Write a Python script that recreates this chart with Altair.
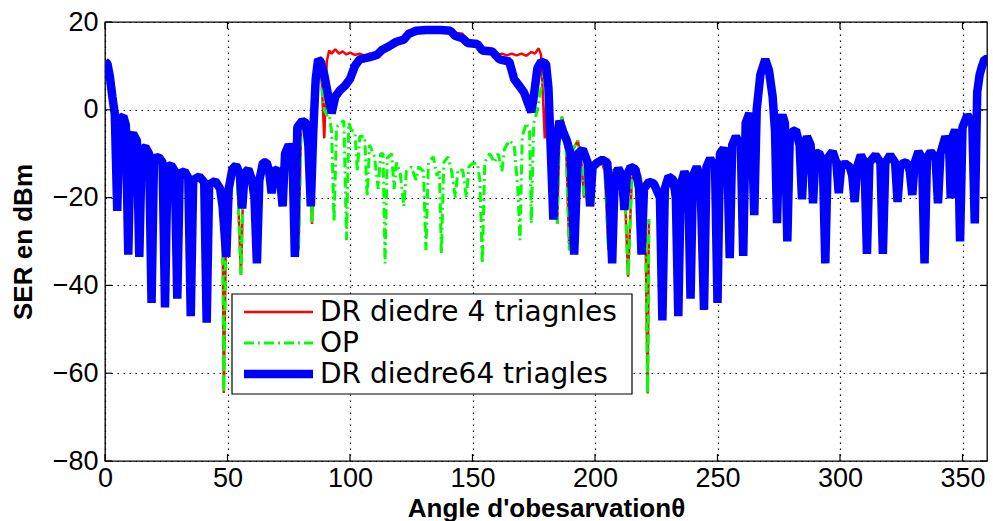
import altair as alt
import pandas as pd

# ---------------- data ----------------
x_ticks = [0, 50, 100, 150, 200, 250, 300, 350]
y_ticks = [-80, -60, -40, -20, 0, 20]

# DR diedre 64 triangles (blue, full 0..360)
blue_theta = [0, 1, 2, 3, 4, 5, 6, 7.5, 8.5, 9.5, 10.5, 11.5, 13, 14, 15, 16.5, 18, 19, 20, 22,
              23.5, 24.5, 25.5, 27, 28.5, 29.5, 30.5, 32.5, 34, 35, 36, 38.5, 40.5, 41.5, 42.5, 45,
              47, 48, 49.5, 50.5, 52, 53.5, 55, 56, 57, 58.5, 60, 61, 62, 63, 64.5, 66, 67, 68, 69,
              70.5, 71.5, 72.5, 73.5, 75, 76.5, 77.5, 78.5, 80.5, 82, 83, 84, 85, 86, 87, 88, 89.5,
              91, 92.5, 94, 96, 98, 100, 102, 104, 108, 111, 113, 116, 119, 122, 124, 127, 131, 137,
              141, 143, 146, 148, 152, 154, 158, 161, 165, 167, 169, 171, 173, 174, 175, 176.5, 178,
              180, 181, 182, 183, 184, 185.5, 187, 188.5, 190, 191.5, 193, 195, 197, 198, 199, 201,
              203, 205, 206, 207, 208, 209.5, 211, 212, 213, 214.5, 216.5, 218, 219, 220, 222, 224,
              226.5, 227.5, 228.5, 230, 232, 233, 234, 235, 236.5, 238, 239, 240, 241.5, 243, 244.5,
              245.5, 247, 249, 250, 251, 252.5, 254, 255, 256, 257.5, 259.5, 260.5, 261.5, 263, 264,
              265, 266, 267.5, 269.5, 271, 272.5, 273.5, 274.3, 275.3, 276.5, 277.5, 278.5, 279.5,
              280.5, 282, 283.5, 284.5, 285.5, 286.5, 288, 289, 290, 291.5, 293, 294, 295, 297, 298.5,
              299.5, 300.5, 302, 304, 305, 306, 307, 308.5, 310, 311, 312, 314.5, 316.5, 317.5, 318.5,
              320.5, 322.5, 323.5, 324.5, 326, 327.5, 328.5, 329.5, 330.5, 332, 333.5, 334.5, 335.5,
              337, 339, 340, 341, 343, 344.5, 345.2, 346, 347, 348.2, 349, 350, 352, 354, 355, 356,
              357, 358, 359, 360]
blue_ser = [11, 10.5, 7.5, 3, -1, -23, -2, -1.5, -3.5, -33, -6, -5.5, -7, -33.5, -9, -8.5, -10, -44,
            -11, -10.8, -12, -45, -13, -12.6, -14, -43, -14.5, -14, -15.5, -47, -16, -15.2, -16.5,
            -48.5, -17, -16.2, -18, -22, -33.5, -18, -13.5, -12.6, -14.5, -22.5, -14.5, -13.5, -16,
            -20, -35, -16, -12, -12, -14, -19, -14, -13.5, -16, -22, -10, -8, -9.5, -33.5, -4, -2.5,
            -3, -8, -22, -5, 7, 11.5, 11, 8, 3.5, -0.8, 3, 4.5, 5.5, 7, 10, 11.5, 12, 12.5, 13.6,
            14.5, 15.5, 16, 17.3, 18, 18.2, 18.2, 18, 16.8, 16.3, 15.2, 15, 13.5, 13.3, 11.5, 11, 7,
            5.5, 4, 1, -0.5, 3, 9.5, 11, 10.5, 5, -10, -25, -8, -2.5, -5, -7, -10, -33, -10, -9,
            -12, -22, -13, -12, -11.4, -12, -20, -35, -16, -13.3, -15, -22.8, -15, -13, -13.5, -18,
            -33, -18, -16.4, -16.8, -20, -48, -18, -15.2, -16, -20, -47, -17, -14.1, -16, -43, -15,
            -13, -15, -45.6, -13, -11.1, -13, -44, -10, -8.8, -11, -33.8, -8, -6.1, -8, -33.3, -3,
            -0.8, -4, -24, 0, 8, 11.5, 9, 3, -5, -25.8, -3, -1.2, -3, -30, -6, -5, -4.6, -8, -20.4,
            -8, -6.1, -8, -21.3, -10, -9.8, -12, -35, -11, -9.5, -12, -19, -13, -12.2, -13, -15,
            -21, -13, -10.3, -12, -32.8, -12, -10.3, -12, -32.8, -12, -10.3, -12, -21, -13, -12,
            -12.2, -14, -19.4, -12, -9.5, -11, -35, -11, -9.5, -11, -21.3, -10, -6.1, -8, -20.2,
            -6, -4.6, -7, -30, -4, -1.2, -3, -25.9, 4, 8, 10, 11.5, 11.5]

# side lobes shared by "DR diedre 4 triagnles" and "OP"
side_left_theta = [48, 48.5, 49.5, 51, 52.5, 54, 55.5, 56.5, 58, 59.5, 61, 62, 63, 64.5, 66, 67, 68,
                   69, 70.5, 72, 73, 75, 77, 78, 79, 80, 81, 82.5, 83.5, 84.5, 85.5, 86.5, 87.5]
side_left_ser = [-24, -64.5, -22, -17, -13.5, -15, -37.6, -16, -14, -16, -24, -31, -16, -12, -12,
                 -14, -18, -14, -13.5, -20, -10, -8, -9, -14, -32, -5, -2.5, -3, -10, -26, -5, 8, 11]
side_right_theta = [182.5, 183.5, 184.6, 185.5, 186.5, 188, 189.5, 191, 193, 194.5, 195.5, 197, 199,
                    201, 202.5, 204, 205.5, 207, 208.5, 210.5, 212, 213.5, 215, 216.5, 218.5, 220.5,
                    221.5, 222]
side_right_ser = [-5, -12, -26, -5, -1.6, -5, -32, -9, -7, -12, -20, -12, -13, -12, -11.5, -14, -32,
                  -14, -13.3, -13.5, -16, -38, -16, -13, -15, -22, -64.6, -25]

# DR diedre 4 triagnles (red), main lobe part
dr4_mid_theta = [88.5, 89.5, 90.5, 91.5, 92.5, 94, 95.5, 97, 98.5, 100, 102, 104, 106, 108, 110, 113,
                 116, 119, 122, 123.5, 127, 131, 137, 141, 143.5, 146, 147.5, 152, 154, 158, 160, 162,
                 164, 166, 168, 170, 172, 174, 175.5, 177, 178, 179.5, 180.5, 181.5]
dr4_mid_ser = [6, -6.5, 11, 13.5, 12.8, 13.8, 12.8, 13.3, 12.6, 13, 12.5, 12.8, 12.3, 12.8, 12.5,
               13.6, 14.5, 15.5, 16.5, 18, 18, 18.2, 18.2, 18, 17.5, 17.3, 15.5, 15, 13.5, 13.3,
               12.5, 12.8, 12.4, 12.8, 12.4, 12.8, 12.3, 13.2, 12.8, 14, 12.5, -6.5, 7, 3]

# OP (green), main lobe part
op_mid_theta = [88.5, 89.5, 90.5, 91.5, 92.5, 93.5, 94.5, 96, 97.5, 98.6, 99.5, 100.5, 102, 103, 104,
                106, 107, 108, 110, 111.5, 112.5, 113.5, 114.3, 115.2, 117, 118, 119, 120.5, 122, 123,
                125, 127, 128, 130, 131, 132, 134, 135.5, 136.5, 137.3, 138.3, 140, 141.5, 143, 144,
                146, 147.5, 148.5, 150, 152, 153, 154, 155, 157, 159, 160.5, 162, 163, 165, 167,
                168.5, 169.4, 170.3, 172, 173.3, 174, 175, 176.5, 178, 179.5, 180.5, 181.5]
op_mid_ser = [5, 0, -1.2, -1, -5, -25.5, -4, -3, -2.5, -29.7, -3, -4.6, -5, -14, -6, -6.1, -19.8, -8,
              -10.7, -18, -10, -10, -35, -11, -10, -18, -12, -14.5, -22, -14, -13, -16, -13, -14,
              -32, -12, -10.7, -15, -14, -32.7, -12, -10.7, -14, -20, -13.7, -13.7, -20, -13, -12.2,
              -12.2, -16, -35, -12, -10, -12, -10, -14, -9, -7, -8, -18, -29.7, -6, -3, -5, -25.9,
              -3, 0, 5, 9, 7, 3]

legend_labels = ["DR diedre 4 triagnles", "OP", "DR diedre64 triagles"]
legend_colors = ["#ff0000", "#00ff00", "#0000ff"]

# ---------------- build table ----------------
series = [
    ("DR diedre 4 triagnles", side_left_theta + dr4_mid_theta + side_right_theta,
     side_left_ser + dr4_mid_ser + side_right_ser),
    ("OP", side_left_theta + op_mid_theta + side_right_theta,
     side_left_ser + op_mid_ser + side_right_ser),
    ("DR diedre64 triagles", blue_theta, blue_ser),
]
rows = []
for name, th, sv in series:
    for i, (t, v) in enumerate(zip(th, sv)):
        rows.append({"serie": name, "theta": t, "ser": v, "ord": i})
df = pd.DataFrame(rows)

W, H = 882, 439
FONT = "Liberation Sans"

x_scale = alt.Scale(domain=[0, 360], nice=False, zero=False)
y_scale = alt.Scale(domain=[-80, 20], nice=False, zero=False)
x_axis = alt.Axis(values=x_ticks, title="Angle d'obesarvationθ", labelFlush=False,
                  labelOverlap=False, format="d")
y_axis = alt.Axis(values=y_ticks, title="SER en dBm", labelFlush=False,
                  labelOverlap=False, format="d")


def X(field):
    return alt.X(field, type="quantitative", scale=x_scale, axis=x_axis)


def Y(field):
    return alt.Y(field, type="quantitative", scale=y_scale, axis=y_axis)


base = alt.Chart(df)


def line(name, color, width, dash=None):
    kw = dict(color=color, strokeWidth=width, strokeJoin="bevel", clip=True)
    if dash:
        kw["strokeDash"] = dash
    return base.transform_filter(alt.datum.serie == name).mark_line(**kw).encode(
        x=X("theta"), y=Y("ser"), order=alt.Order("ord:Q"))


red = line(legend_labels[0], legend_colors[0], 2.5)
green = line(legend_labels[1], legend_colors[1], 3, [10, 4, 2, 4])
blue = line(legend_labels[2], legend_colors[2], 8.5)

# inward ticks (MATLAB style)
xt = alt.Chart(pd.DataFrame({"t": x_ticks}))
yt = alt.Chart(pd.DataFrame({"t": y_ticks}))
tick_layers = [
    xt.mark_rule(color="black", strokeWidth=1.2).encode(x=X("t"), y=alt.value(H), y2=alt.value(H - 7)),
    xt.mark_rule(color="black", strokeWidth=1.2).encode(x=X("t"), y=alt.value(0), y2=alt.value(7)),
    yt.mark_rule(color="black", strokeWidth=1.2).encode(y=Y("t"), x=alt.value(0), x2=alt.value(7)),
    yt.mark_rule(color="black", strokeWidth=1.2).encode(y=Y("t"), x=alt.value(W), x2=alt.value(W - 7)),
]

# legend box
lx0, lx1, ly0, ly1 = 127, 527, 272, 372
ldf = alt.Chart(pd.DataFrame({"k": [0]}))
legend_layers = [
    ldf.mark_rect(fill="white", stroke="black", strokeWidth=1.2).encode(
        x=alt.value(lx0), x2=alt.value(lx1), y=alt.value(ly0), y2=alt.value(ly1))
]
ys = [290, 321, 352]
widths = [2.5, 3, 8.5]
for i in range(3):
    kw = dict(color=legend_colors[i], strokeWidth=widths[i])
    if i == 1:
        kw["strokeDash"] = [10, 4, 2, 4]
    legend_layers.append(ldf.mark_rule(**kw).encode(
        x=alt.value(139), x2=alt.value(208), y=alt.value(ys[i])))
    legend_layers.append(ldf.mark_text(align="left", baseline="middle", font="DejaVu Sans",
                                       fontSize=28, color="black").encode(
        x=alt.value(215), y=alt.value(ys[i] + 1), text=alt.value(legend_labels[i])))

chart = alt.layer(red, green, blue, *tick_layers, *legend_layers).properties(
    width=W, height=H, autosize="none", background="white",
    padding={"left": 105, "top": 22, "right": 6, "bottom": 60},
).configure_view(stroke="black", strokeWidth=1.3).configure_axis(
    domain=False, ticks=False, grid=True, gridColor="black", gridDash=[1.5, 4.5],
    gridWidth=1.2, gridOpacity=1,
    labelFont=FONT, labelFontSize=27, labelColor="black",
    titleFont=FONT, titleFontSize=26, titleFontWeight="bold", titleColor="black",
).configure_axisX(labelPadding=4, titlePadding=4).configure_axisY(
    labelPadding=7, titlePadding=16)

chart.save("out.html", embed_options={"renderer": "svg", "actions": False})
